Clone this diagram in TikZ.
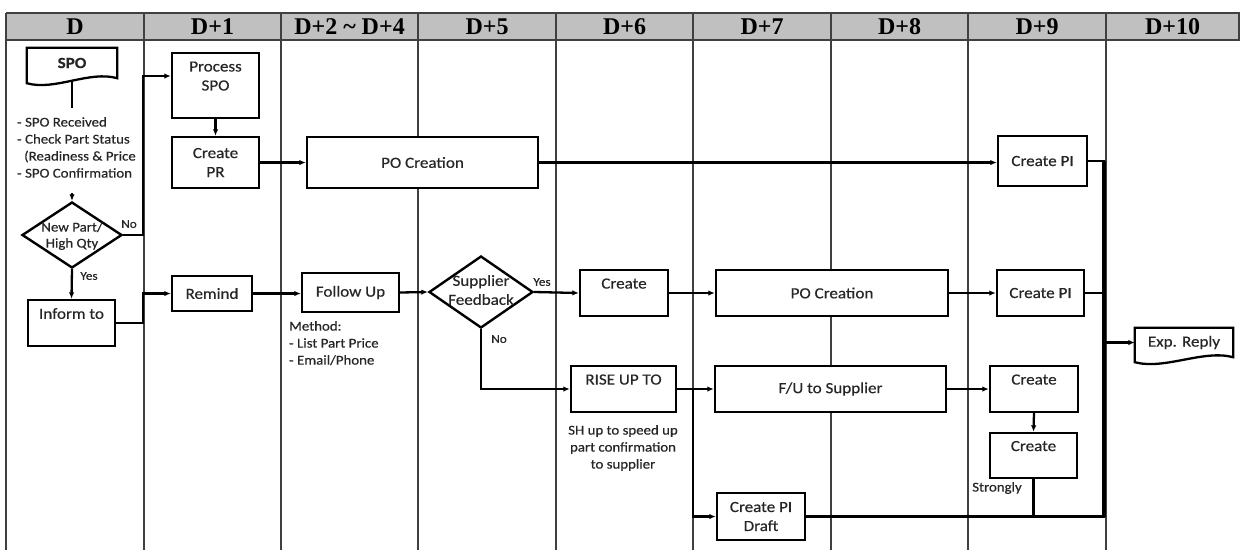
\documentclass[tikz,border=0pt]{standalone}
\usepackage{fontspec}
\setmainfont{Carlito}[FakeStretch=1.1,FakeBold=0.4]
\newfontfamily\headfont{Liberation Serif}
\usetikzlibrary{shapes.geometric,arrows.meta,calc}

\definecolor{headgray}{HTML}{C0C0C0}
\definecolor{inkgray}{HTML}{262626}
\newcommand\mainsz{\fontsize{15.5}{19}\selectfont}
\newcommand\notesz{\fontsize{13.5}{17}\selectfont}
\newcommand\tagsz{\fontsize{12}{14}\selectfont}
\newcommand\headsz{\headfont\bfseries\fontsize{24}{28}\selectfont}

\begin{document}
\begin{tikzpicture}[x=1pt,y=-1pt,
  gridline/.style={draw=black!75, line width=1.2pt},
  boxnode/.style={draw=black, line width=2.4pt, fill=white, inner sep=0pt,
    align=center, font=\mainsz, text=inkgray},
  decision/.style={diamond, draw=black, line width=2.4pt, fill=white, inner sep=0pt},
  plaintext/.style={inner sep=0pt, align=center, text=inkgray},
  notetext/.style={inner sep=0pt, align=left, font=\notesz, text=inkgray},
  tagtext/.style={inner sep=0pt, font=\tagsz, text=inkgray},
  headtext/.style={inner sep=0pt, font=\headsz, text=black},
  wire/.style={draw=black, line width=2.3pt},
  wirearrow/.style={wire, -{Latex[length=6.5pt,width=5.5pt]}},
]
\useasboundingbox (0,0) rectangle (1240,550);

% ---------- day columns ----------
\fill[headgray] (6,13) rectangle (1239,40);
\draw[gridline] (6,13) -- (1239,13) -- (1239,40) -- (6,40);
\foreach \x in {6,144,281,418,556,693,831,968,1106}
  \draw[gridline] (\x,13) -- (\x,550);

\node[headtext] (h0) at (75,27)     {D};
\node[headtext] (h1) at (212.5,27)  {D+1};
\node[headtext] (h2) at (349.5,27)  {D+2 \textasciitilde{} D+4};
\node[headtext] (h3) at (487,27)    {D+5};
\node[headtext] (h4) at (624.5,27)  {D+6};
\node[headtext] (h5) at (762,27)    {D+7};
\node[headtext] (h6) at (899.5,27)  {D+8};
\node[headtext] (h7) at (1037,27)   {D+9};
\node[headtext] (h8) at (1172.5,27) {D+10};

% ---------- day D ----------
\node[plaintext, font=\mainsz\bfseries, minimum width=90, minimum height=30] (spo) at (72,63) {SPO};
\coordinate (spoEnd) at (72,108);
\node[notetext, anchor=north west] (spoNote) at (17,117)
  {- SPO Received\\- Check Part Status\\\hspace{7pt}(Readiness \& Price\\- SPO Confirmation};
\coordinate (dIn) at (72,193);

\node[decision, minimum width=100, minimum height=66] (d1) at (72,235) {};
\node[plaintext, font=\fontsize{13.5}{16}\selectfont] (d1t) at (72,236) {New Part/\\High Qty};
\node[boxnode, minimum width=87, minimum height=46] (inf) at (71.5,323) {Inform to\\\mbox{}};

% ---------- day D+1 ----------
\node[boxnode, minimum width=87, minimum height=65] (proc) at (215.5,85.5) {Process\\SPO\\\mbox{}};
\node[boxnode, minimum width=87, minimum height=51] (pr) at (215.5,162.5) {Create\\PR};
\node[boxnode, minimum width=80, minimum height=35] (rem) at (212,293.5) {Remind};
\coordinate (j1) at (143,76);

% ---------- D+2 ~ D+5 ----------
\node[boxnode, minimum width=231, minimum height=51] (po1) at (422.5,162.5) {PO Creation};
\node[boxnode, minimum width=97, minimum height=39] (fu) at (350.5,292.5) {Follow Up};
\node[notetext, anchor=north west] (method) at (289,321)
  {Method:\\- List Part Price\\- Email/Phone};
\node[decision, minimum width=104, minimum height=72] (d2) at (481,292) {};
\node[plaintext, font=\mainsz] (d2t) at (481,290) {Supplier\\Feedback};

% ---------- D+6 ~ D+8 ----------
\node[boxnode, minimum width=88, minimum height=46] (cr6) at (624,293) {Create\\\mbox{}};
\node[boxnode, minimum width=105, minimum height=46] (rise) at (623.5,389) {RISE UP TO\\\mbox{}};
\node[notetext, align=center, anchor=north] (shNote) at (623,425)
  {SH up to speed up\\part confirmation\\to supplier};
\node[boxnode, minimum width=232, minimum height=46] (po2) at (832,293) {PO Creation};
\node[boxnode, minimum width=231, minimum height=46] (fus) at (830.5,389) {F/U to Supplier};
\node[boxnode, minimum width=88, minimum height=47] (draft) at (761,516.5) {Create PI\\Draft};
\coordinate (j7) at (693,389);

% ---------- D+9 / D+10 ----------
\node[boxnode, minimum width=89, minimum height=50] (pi1) at (1042.5,161) {Create PI};
\node[boxnode, minimum width=87, minimum height=46] (pi2) at (1040.5,293) {Create PI};
\node[boxnode, minimum width=88, minimum height=46] (cr9a) at (1034,389) {Create\\\mbox{}};
\node[boxnode, minimum width=87, minimum height=45] (cr9b) at (1033.5,455.5) {Create\\\mbox{}};
\node[notetext] (strong) at (997,488) {Strongly};
\node[plaintext, font=\mainsz, minimum width=98, minimum height=29] (exp) at (1184,342.5) {Exp. Reply};
\coordinate (rail) at (1104,516.5);

% ---------- document shapes ----------
\draw[wire] (spo.south west) -- (spo.north west) -- (spo.north east) -- (spo.south east)
  .. controls +(-28,-8) and +(28,8) .. ($(spo.south west)+(0,5)$) -- cycle;
\draw[wire] (exp.south west) -- (exp.north west) -- (exp.north east) -- (exp.south east)
  .. controls +(-30,-8) and +(30,8) .. ($(exp.south west)+(0,5)$) -- cycle;

% ---------- connectors ----------
\draw[wire] ($(spo.south)+(0,2.5)$) -- (spoEnd);
\draw[wirearrow] (dIn) -- (d1.north);
\draw[wirearrow] (d1.east) -| (j1) -- (proc.west |- j1);
\draw[wirearrow] (d1.south) -- (inf.north);
\draw[wirearrow] (inf.east) -- (inf.east -| j1) |- (rem.west);
\draw[wirearrow] (proc.south) -- (pr.north);
\draw[wirearrow] (pr.east) -- (po1.west);
\draw[wirearrow] (po1.east) -- (pi1.west |- po1.east);
\draw[wirearrow] (rem.east) -- (fu.west |- rem.east);
\draw[wirearrow] (fu.east) -- (d2.west);
\draw[wirearrow] (d2.east) -- (cr6.west);
\draw[wirearrow] (d2.south) |- (rise.west);
\draw[wirearrow] (cr6.east) -- (po2.west);
\draw[wirearrow] (po2.east) -- (pi2.west);
\draw[wirearrow] (rise.east) -- (fus.west);
\draw[wirearrow] (j7) |- (draft.west);
\draw[wirearrow] (fus.east) -- (cr9a.west);
\draw[wirearrow] (cr9a.south) -- (cr9b.north);

\draw[wire] (pi1.east) -| (rail) -- (draft.east);
\draw[draw=black, line width=3.2pt] (pi1.east -| rail) -- (rail);
\draw[wire] (pi2.east) -- (pi2.east -| rail);
\draw[wire] (cr9b.south) -- (cr9b.south |- rail);
\draw[wirearrow] (exp.west -| rail) -- (exp.west);

% ---------- branch labels ----------
\node[tagtext] (no1)  at (129,224) {No};
\node[tagtext] (yes1) at (89,276)  {Yes};
\node[tagtext] (yes2) at (542,282) {Yes};
\node[tagtext] (no2)  at (499,339) {No};
\end{tikzpicture}
\end{document}
